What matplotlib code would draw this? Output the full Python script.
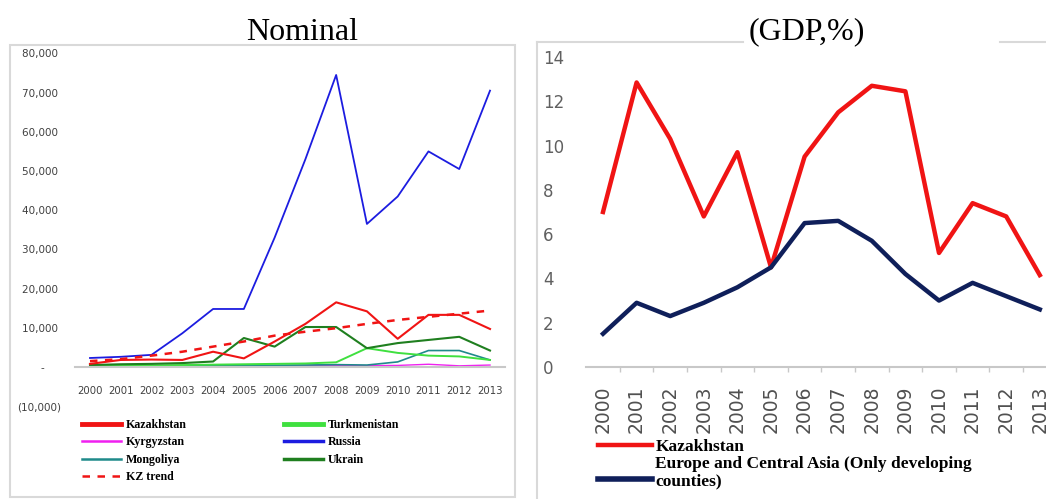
import matplotlib
matplotlib.use("Agg")
import matplotlib.pyplot as plt
from matplotlib.lines import Line2D
from matplotlib.ticker import FuncFormatter
from matplotlib import font_manager

# ---- data ----
years = ['2000', '2001', '2002', '2003', '2004', '2005', '2006',
         '2007', '2008', '2009', '2010', '2011', '2012', '2013']

# left panel: Nominal
russia = [2300, 2600, 3100, 8600, 14800, 14800, 33000, 53000, 74500, 36500, 43500, 55000, 50500, 70500]
kazakhstan = [800, 1800, 1900, 1800, 3900, 2200, 6500, 11000, 16500, 14200, 7200, 13300, 13300, 9700]
turkmenistan = [300, 400, 400, 500, 600, 700, 800, 900, 1200, 4800, 3600, 2900, 2700, 1800]
kyrgyzstan = [150, 150, 200, 200, 250, 300, 300, 400, 400, 350, 400, 700, 300, 500]
mongoliya = [200, 200, 250, 300, 350, 400, 450, 500, 600, 500, 1300, 4200, 4200, 1800]
ukrain = [500, 700, 800, 1000, 1400, 7400, 5200, 10200, 10200, 4800, 6100, 6900, 7700, 4200]
kz_trend = [1500, 2000, 2900, 3900, 5200, 6500, 8000, 9000, 9900, 11000, 12000, 12800, 13600, 14400]

# right panel: GDP, %
kz_gdp = [7.0, 12.85, 10.3, 6.8, 9.7, 4.5, 9.5, 11.5, 12.7, 12.45, 5.15, 7.4, 6.8, 4.15]
eca_gdp = [1.5, 2.9, 2.3, 2.9, 3.6, 4.5, 6.5, 6.6, 5.7, 4.2, 3.0, 3.8, 3.2, 2.6]

W, H = 1046, 499


def px_rect(left, top, right, bottom):
    # pixel box -> figure fraction [l, b, w, h]
    return [left / W, 1 - bottom / H, (right - left) / W, (bottom - top) / H]


# narrow font for the cramped year labels, if it is there
installed = {f.name for f in font_manager.fontManager.ttflist}
if 'Liberation Sans Narrow' in installed:
    narrow, narrow_size = 'Liberation Sans Narrow', 9.5
else:
    narrow, narrow_size = 'DejaVu Sans', 7.3

fig = plt.figure(figsize=(W / 100, H / 100), dpi=100)

RED = '#F01414'
BLUE = '#1C1CE0'
LGREEN = '#3FE03F'
MAGENTA = '#F020F0'
TEAL = '#1F8A8A'
DGREEN = '#1F7F1F'
NAVY = '#0F1F5A'
GRID = '#C8C8C8'

x = list(range(len(years)))

# ---------------- left chart ----------------
ax1 = fig.add_axes(px_rect(74.6, 53.4, 505.4, 406.2))
ax1.plot(x, russia, color=BLUE, lw=1.3)
ax1.plot(x, kyrgyzstan, color=MAGENTA, lw=1.0)
ax1.plot(x, mongoliya, color=TEAL, lw=1.2)
ax1.plot(x, turkmenistan, color=LGREEN, lw=1.4)
ax1.plot(x, ukrain, color=DGREEN, lw=1.5)
ax1.plot(x, kazakhstan, color=RED, lw=1.5)
ax1.plot(x, kz_trend, color=RED, lw=1.8, ls=(0, (3, 3)))

ax1.set_xlim(-0.5, len(years) - 0.5)
ax1.set_ylim(-10000, 80000)
ax1.set_yticks(range(-10000, 80001, 10000))
ax1.set_xticks(x, years)


def nominal_fmt(v, pos):
    if v == 0:
        return '-     '
    if v < 0:
        return '({:,.0f})'.format(-v)
    return '{:,.0f} '.format(v)


ax1.yaxis.set_major_formatter(FuncFormatter(nominal_fmt))
for s in ['top', 'right', 'left']:
    ax1.spines[s].set_visible(False)
ax1.spines['bottom'].set_position(('data', 0))
ax1.spines['bottom'].set_color(GRID)
ax1.spines['bottom'].set_linewidth(1.5)
ax1.tick_params(length=0)
ax1.tick_params(axis='x', pad=14, labelsize=narrow_size, labelcolor='#404040',
                labelfontfamily=narrow)
ax1.tick_params(axis='y', pad=9.5, labelsize=7.5, labelcolor='#404040')

legend_font = {'family': 'Liberation Serif', 'weight': 'bold', 'size': 8.6}
h1 = [Line2D([], [], color=RED, lw=3.5),
      Line2D([], [], color=MAGENTA, lw=1.8),
      Line2D([], [], color=TEAL, lw=1.8),
      Line2D([], [], color=RED, lw=1.8, ls=(0, (3, 3))),
      Line2D([], [], color=LGREEN, lw=3.5),
      Line2D([], [], color=BLUE, lw=2.5),
      Line2D([], [], color=DGREEN, lw=2.5)]
l1 = ['Kazakhstan', 'Kyrgyzstan', 'Mongoliya', 'KZ trend',
      'Turkmenistan', 'Russia', 'Ukrain']
fig.legend(h1, l1, loc='upper left', bbox_to_anchor=(82 / W, 1 - 419 / H),
           ncol=2, frameon=False, prop=legend_font, borderpad=0,
           borderaxespad=0, handlelength=3.3, handletextpad=0.4,
           columnspacing=8.1, labelspacing=0.45)

# ---------------- right chart ----------------
ax2 = fig.add_axes(px_rect(586.2, 57, 1056.6, 367))
ax2.plot(x, kz_gdp, color=RED, lw=3.2)
ax2.plot(x, eca_gdp, color=NAVY, lw=3.2)
ax2.set_xlim(-0.5, len(years) - 0.5)
ax2.set_ylim(0, 14)
ax2.set_yticks(range(0, 15, 2))
ax2.set_xticks(x, years, rotation=90)
ax2.set_xticks([i + 0.5 for i in x[:-1]], minor=True)
for s in ['top', 'right', 'left']:
    ax2.spines[s].set_visible(False)
ax2.spines['bottom'].set_color(GRID)
ax2.spines['bottom'].set_linewidth(1.5)
ax2.tick_params(which='major', length=0)
ax2.tick_params(which='minor', axis='x', length=3.5, width=1, color=GRID)
ax2.tick_params(axis='x', pad=13, labelsize=13.5, labelcolor='#505050')
ax2.tick_params(axis='y', pad=31, labelsize=12, labelcolor='#606060')
for lab in ax2.get_yticklabels():
    lab.set_horizontalalignment('left')

legend_font2 = {'family': 'Liberation Serif', 'weight': 'bold', 'size': 12.5}
h2 = [Line2D([], [], color=RED, lw=3.2),
      Line2D([], [], color='none'),
      Line2D([], [], color=NAVY, lw=4)]
l2 = ['Kazakhstan', 'Europe and Central Asia (Only developing', 'counties)']
fig.legend(h2, l2, loc='upper left', bbox_to_anchor=(598 / W, 1 - 439 / H),
           frameon=False, prop=legend_font2, borderpad=0, borderaxespad=0,
           handlelength=3.1, handletextpad=0.2, labelspacing=0.05)

# ---------------- titles and panel borders ----------------
fig.text(302 / W, 1 - 32 / H, 'Nominal', ha='center', va='center',
         family='Liberation Serif', fontsize=23)
fig.text(807 / W, 1 - 32 / H, '(GDP,%)', ha='center', va='center',
         family='Liberation Serif', fontsize=23)

border = '#D9D9D9'
fig.add_artist(plt.Rectangle((10 / W, 1 - 497 / H), 505 / W, 452 / H,
                             transform=fig.transFigure, fill=False,
                             edgecolor=border, lw=1.5))
fig.add_artist(Line2D([537 / W, 537 / W], [1 - 42 / H, 0], color=border, lw=1.5))
fig.add_artist(Line2D([537 / W, 743 / W], [1 - 42 / H, 1 - 42 / H], color=border, lw=1.5))
fig.add_artist(Line2D([1000 / W, 1], [1 - 42 / H, 1 - 42 / H], color=border, lw=1.5))

fig.savefig('out.png', dpi=100)
